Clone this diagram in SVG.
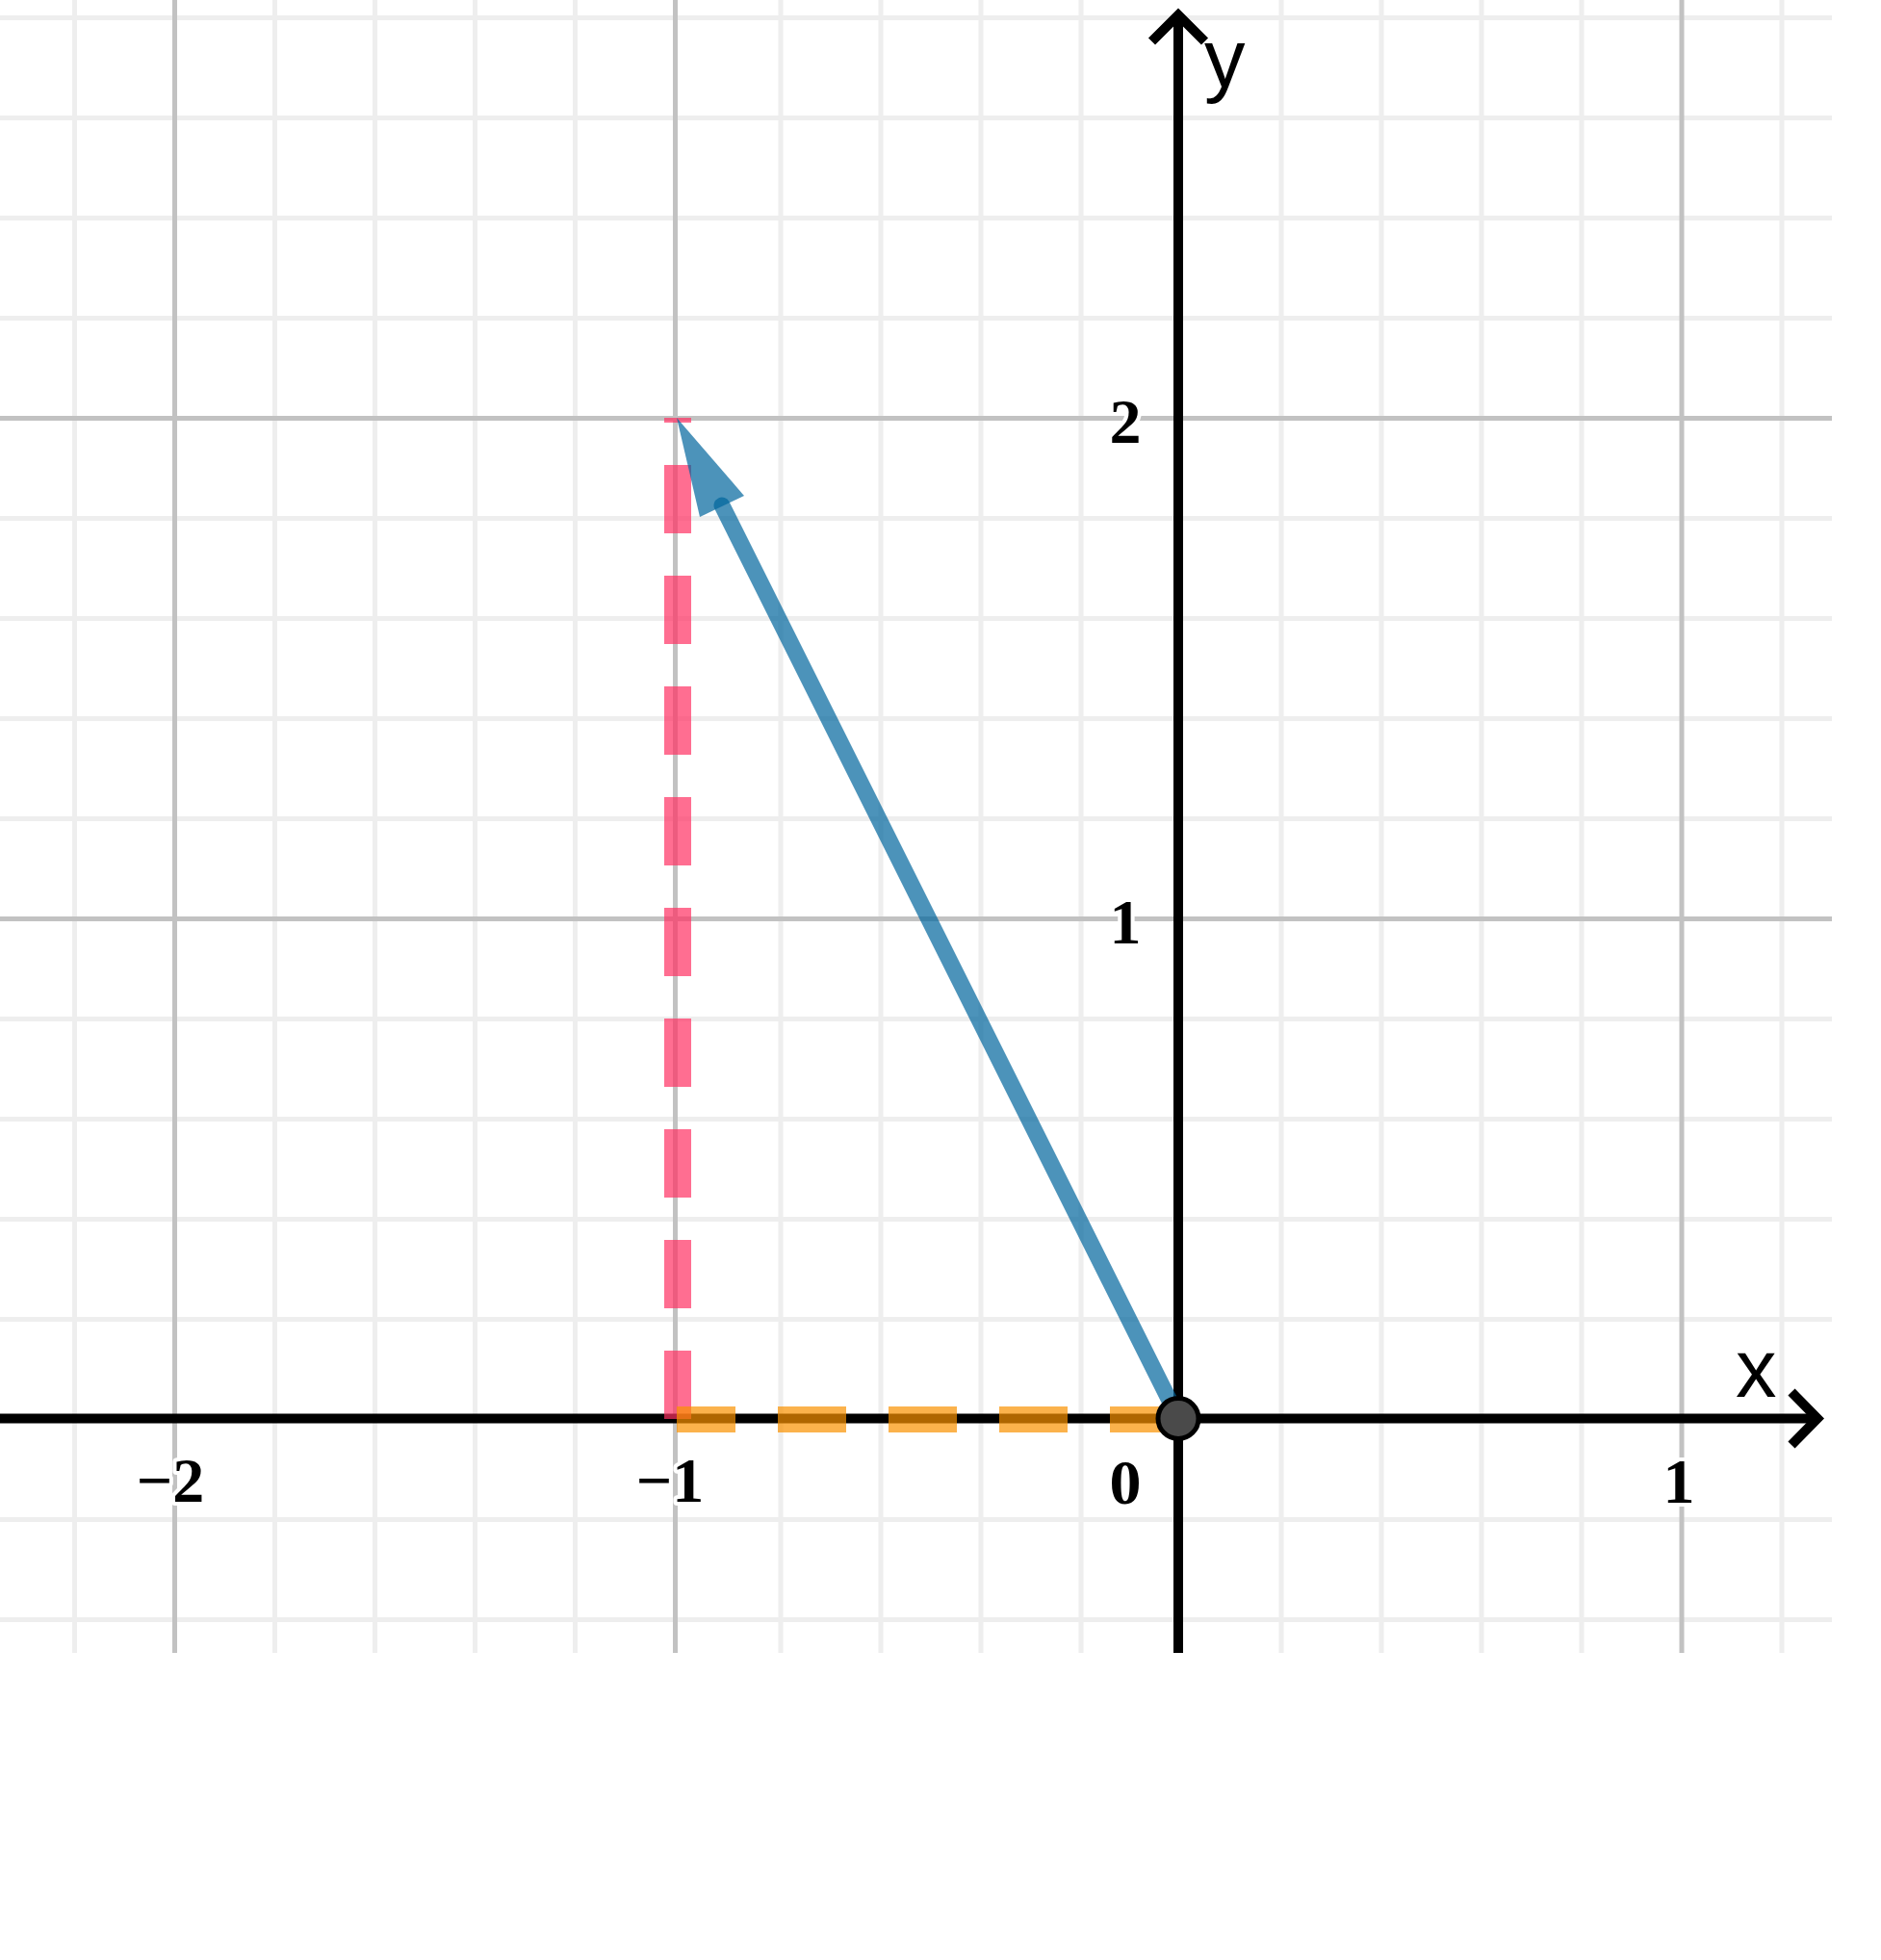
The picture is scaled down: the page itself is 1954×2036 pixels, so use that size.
<svg xmlns="http://www.w3.org/2000/svg" width="1954" height="2036" viewBox="0 0 1954 2036">
<style>
.minor{stroke:#eeeeee;stroke-width:5;fill:none}
.major{stroke:#c2c2c2;stroke-width:5;fill:none}
.axis{stroke:#000;stroke-width:10;fill:none}
.tick{font-family:"Liberation Serif",serif;font-weight:bold;font-size:66px;fill:#000;stroke:#fff;stroke-width:8;paint-order:stroke;stroke-linejoin:round;text-anchor:middle}
.alabel{font-family:"Liberation Sans",Arial,sans-serif;font-size:85px;fill:#000}
</style>
<rect width="1954" height="2036" fill="#fff"/>
<g id="grid">
<g class="minor">
<path d="M77.5 0V1717M285.5 0V1717M389.5 0V1717M493.5 0V1717M597.5 0V1717M811 0V1717M915 0V1717M1019 0V1717M1123 0V1717M1331 0V1717M1435 0V1717M1539 0V1717M1643 0V1717M1851 0V1717"/>
<path d="M0 18.5H1903M0 122.5H1903M0 226.5H1903M0 330.5H1903M0 538.5H1903M0 642.5H1903M0 746.5H1903M0 850.5H1903M0 1058.5H1903M0 1162.5H1903M0 1266.5H1903M0 1370.5H1903M0 1578.5H1903M0 1682.5H1903"/>
</g>
<g class="major">
<path d="M181.5 0V1717M701.5 0V1717M1747 0V1717"/>
<path d="M0 434.5H1903M0 954.5H1903"/>
</g>
</g>
<g id="axes">
<path class="axis" d="M0 1473.5H1888"/>
<polyline class="axis" points="1861,1446 1888,1473.5 1861,1501" stroke-linejoin="miter"/>
<path class="axis" d="M1224 1717V16"/>
<polyline class="axis" points="1196.5,43 1224,15.5 1251.5,43" stroke-linejoin="miter"/>
<text class="alabel" x="1251" y="90">y</text>
<text class="alabel" x="1803" y="1451">x</text>
</g>
<g id="connectors">
<path id="vertical-component" d="M704 1474V434" stroke="#ff3062" stroke-opacity="0.7" stroke-width="28" stroke-dasharray="71 44" fill="none"/>
<path id="horizontal-component" d="M1224 1474.5H703" stroke="#fa9200" stroke-opacity="0.7" stroke-width="27" stroke-dasharray="71 44" fill="none"/>
<g id="vector">
<path d="M1224 1473L750 525" stroke="#00659d" stroke-opacity="0.7" stroke-width="17" stroke-linecap="round" fill="none"/>
<polygon points="703,434 773,515 727,537" fill="#00659d" fill-opacity="0.7"/>
</g>
</g>
<g id="origin-point">
<circle cx="1224" cy="1473.5" r="21" fill="#4a4a4a" stroke="#000" stroke-width="5"/>
</g>
<g id="tick-labels">
<text class="tick" x="1169" y="460">2</text>
<text class="tick" x="1169" y="980">1</text>
<text class="tick" x="1169" y="1562">0</text>
<text class="tick" x="177" y="1560">−2</text>
<text class="tick" x="696" y="1560">−1</text>
<text class="tick" x="1744" y="1561">1</text>
</g>
</svg>
